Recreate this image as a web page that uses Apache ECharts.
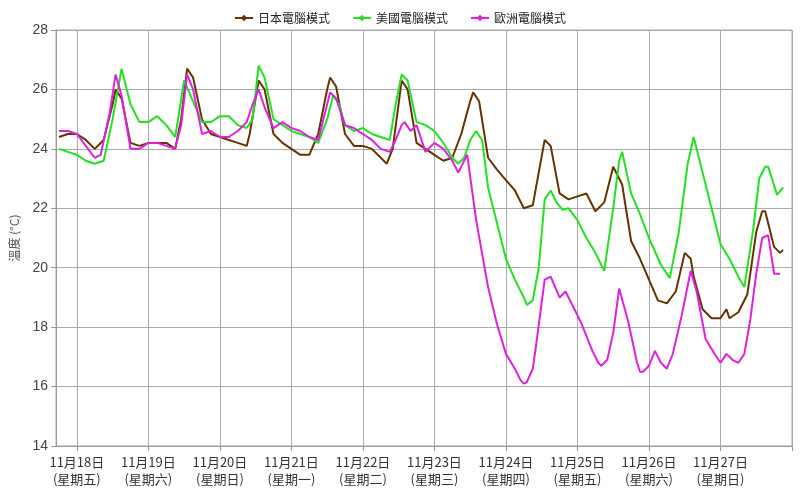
<!DOCTYPE html>
<html><head><meta charset="utf-8">
<script src="https://cdn.jsdelivr.net/npm/echarts@6/dist/echarts.min.js"></script>
<style>html,body{margin:0;padding:0;background:#fff}#c{width:800px;height:492px}</style>
</head><body><div id="c"></div>
<script>
const dayLabels = ["11月18日\n(星期五)","11月19日\n(星期六)","11月20日\n(星期日)","11月21日\n(星期一)","11月22日\n(星期二)","11月23日\n(星期三)","11月24日\n(星期四)","11月25日\n(星期五)","11月26日\n(星期六)","11月27日\n(星期日)"];
const seriesNames = ["日本電腦模式","美國電腦模式","歐洲電腦模式"];
// hours since 18 Nov 00:00
const jpHours = [-6,-3,0,3,6,9,12,13,15,18,21,24,27,30,33,35,37,39,42,45,48,51,54,57,58,61,63,66,69,72,75,78,81,84,85,87,90,93,96,99,102,104,106,109,111,114,117,120,123,126,129,132,133,135,138,141,144,147,150,153,157,159,162,165,168,171,174,177,180,183,186,189,192,195,198,201,204,206,207,210,213,216,218,219,222,225,228,230,231,234,236,237];
const jpVals  = [24.4,24.5,24.5,24.3,24.0,24.3,25.5,26.0,25.7,24.2,24.1,24.2,24.2,24.2,24.0,25.0,26.7,26.4,25.0,24.5,24.4,24.3,24.2,24.1,24.5,26.3,26.0,24.5,24.2,24.0,23.8,23.8,24.5,26.0,26.4,26.1,24.5,24.1,24.1,24.0,23.7,23.5,24.0,26.3,26.0,24.2,24.0,23.8,23.6,23.7,24.5,25.6,25.9,25.6,23.7,23.3,22.95,22.6,22.0,22.1,24.3,24.1,22.5,22.3,22.4,22.5,21.9,22.2,23.4,22.8,20.9,20.3,19.6,18.9,18.8,19.2,20.5,20.3,19.7,18.6,18.3,18.3,18.6,18.3,18.5,19.1,21.2,21.9,21.9,20.7,20.5,20.6];
const usHours = [-6,-3,0,3,6,9,12,15,18,21,24,27,30,33,36,39,42,45,48,51,54,57,59,61,63,66,69,72,75,78,81,84,86,88,90,93,96,99,102,105,107,109,111,114,117,120,123,126,128,130,132,134,136,138,141,144,147,150,151,153,155,157,159,161,163,165,168,171,174,177,180,182,183,186,189,192,196,199,202,205,207,210,213,216,219,222,224,227,229,231,232,235,237];
const usVals  = [24.0,23.9,23.8,23.6,23.5,23.6,25.0,26.7,25.5,24.9,24.9,25.1,24.8,24.4,26.3,25.6,24.9,24.9,25.1,25.1,24.8,24.7,25.0,26.8,26.4,25.0,24.8,24.6,24.5,24.4,24.2,25.0,25.8,25.5,24.8,24.6,24.7,24.5,24.4,24.3,25.5,26.5,26.3,24.9,24.8,24.6,24.2,23.7,23.5,23.7,24.3,24.6,24.3,22.7,21.5,20.3,19.6,19.0,18.75,18.9,20.0,22.3,22.6,22.2,21.95,22.0,21.6,21.0,20.5,19.9,22.0,23.6,23.9,22.5,21.8,21.0,20.1,19.65,21.2,23.5,24.4,23.2,22.0,20.8,20.3,19.7,19.35,21.3,23.0,23.4,23.4,22.45,22.7];
const euHours = [-6,-3,0,3,6,8,11,13,15,18,21,24,27,30,33,35,37,39,42,45,48,51,54,57,59,61,63,66,69,72,75,78,81,84,85,87,90,93,96,99,102,105,107,109,110,112,114,117,120,123,126,128,131,134,138,141,144,147,149,150,151,153,154,157,159,162,164,169,173,175,176,178,180,182,185,188,189,190,192,194,196,198,200,203,206,208,211,214,216,218,220,222,224,226,228,230,232,234,236];
const euVals  = [24.6,24.6,24.5,24.1,23.7,23.8,25.2,26.5,25.8,24.0,24.0,24.2,24.2,24.1,24.0,24.8,26.5,26.0,24.5,24.6,24.4,24.4,24.6,24.9,25.5,26.0,25.4,24.7,24.9,24.7,24.6,24.4,24.3,25.5,25.9,25.7,24.8,24.7,24.5,24.3,24.0,23.9,24.3,24.8,24.9,24.6,24.8,23.9,24.2,24.0,23.6,23.2,23.8,21.6,19.35,18.1,17.1,16.6,16.2,16.1,16.15,16.6,17.3,19.6,19.7,19.0,19.2,18.2,17.2,16.8,16.7,16.9,17.8,19.3,18.2,16.8,16.5,16.5,16.7,17.2,16.8,16.6,17.1,18.4,19.9,19.2,17.6,17.1,16.8,17.1,16.9,16.8,17.1,18.25,19.8,21.0,21.1,19.8,19.8];
const yTicks = [14,16,18,20,22,24,26,28];

const START = -7, END = 240;
const cats = [];
for (let h = START; h <= END; h++) cats.push(h);
const isDay = i => (cats[i] % 24 === 0);
const toData = (hs, vs) => hs.map((h, i) => [h - START, vs[i]]);
const colors = ['#663300', '#22e022', '#dd22dd'];
const chart = echarts.init(document.getElementById('c'));
chart.setOption({
  animation: false,
  legend: {
    top: 7, left: 'center', itemGap: 22, itemWidth: 18, itemHeight: 8,
    textStyle: { fontSize: 12, color: '#222', fontFamily: 'Noto Sans CJK TC' },
    data: seriesNames
  },
  grid: { left: 53, right: 8, top: 30, bottom: 46, show: true, borderColor: '#aaa', borderWidth: 1 },
  xAxis: {
    type: 'category', data: cats, boundaryGap: false,
    axisLine: { lineStyle: { color: '#999' } },
    axisTick: { interval: (i) => isDay(i), length: 5, lineStyle: { color: '#999' } },
    axisLabel: { interval: (i) => isDay(i), formatter: (v) => dayLabels[(+v) / 24] || '', color: '#333', fontSize: 13, lineHeight: 17, fontFamily: 'Noto Sans CJK TC' },
    splitLine: { show: true, interval: (i) => isDay(i), lineStyle: { color: '#aaa', width: 1 } }
  },
  yAxis: {
    type: 'value', min: yTicks[0], max: yTicks[yTicks.length - 1], interval: 2,
    name: '溫度 (°C)', nameLocation: 'middle', nameGap: 36, nameRotate: 90,
    nameTextStyle: { color: '#555', fontSize: 12, fontFamily: 'Noto Sans CJK TC' },
    axisLine: { show: true, lineStyle: { color: '#999' } },
    axisTick: { show: true, length: 5, lineStyle: { color: '#999' } },
    axisLabel: { color: '#444', fontSize: 14 },
    splitLine: { lineStyle: { color: '#aaa', width: 1 } }
  },
  series: [
    { name: seriesNames[0], data: toData(jpHours, jpVals) },
    { name: seriesNames[1], data: toData(usHours, usVals) },
    { name: seriesNames[2], data: toData(euHours, euVals) }
  ].map((s, i) => Object.assign(s, {
    type: 'line', showSymbol: false, symbol: 'diamond', symbolSize: 8,
    color: colors[i], lineStyle: { width: 2, color: colors[i] }
  }))
});
</script></body></html>
